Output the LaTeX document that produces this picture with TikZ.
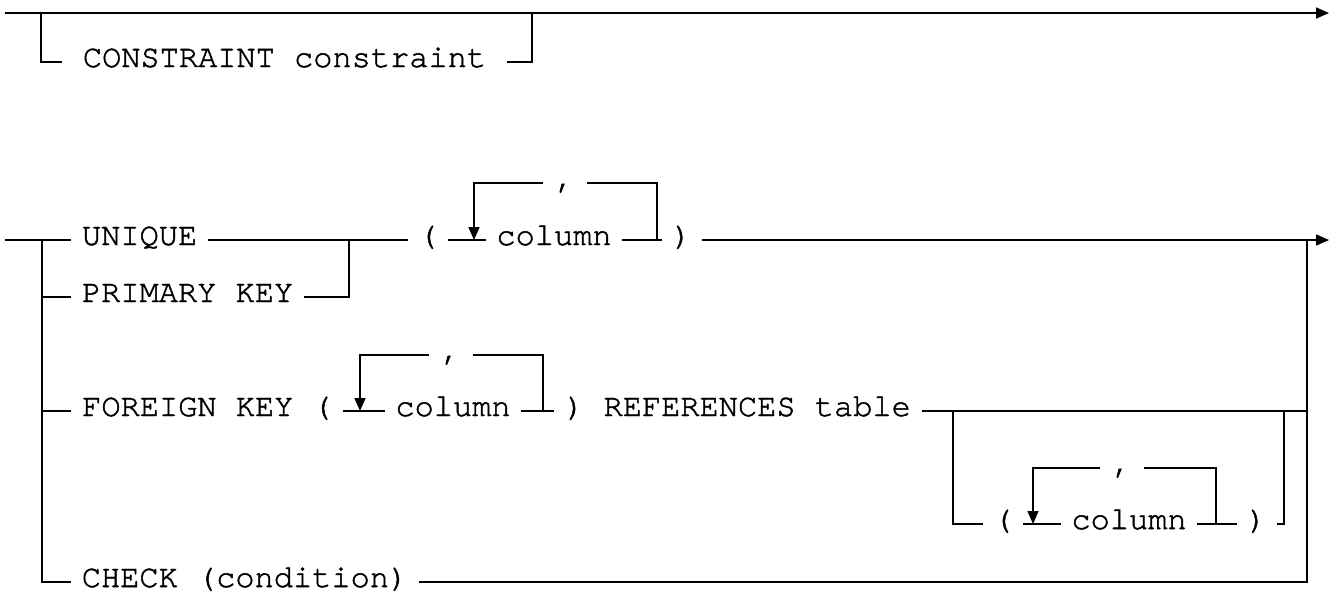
\documentclass[tikz,border=0pt]{standalone}
\usepackage{fontspec}
\newfontfamily\railfont{TeX Gyre Cursor}[RawFeature={embolden=1.5}]
\usetikzlibrary{arrows.meta}
\begin{document}
\begin{tikzpicture}[x=1pt,y=-1pt,line width=1.6pt,
    every node/.style={font=\railfont\fontsize{32}{36}\selectfont,text height=20pt,text depth=10pt,inner xsep=10pt,inner ysep=0pt},
    commabox/.style={inner xsep=12pt},
    endarrow/.style={-{Triangle[length=13pt,width=11pt]}}]
    \useasboundingbox (0,0) rectangle (1338,603);
    \node (cons) [inner xsep=20pt] at (284.5,62) {CONSTRAINT constraint};
    \node (unique) at (139.6,240) {UNIQUE};
    \node (pkey) at (187.6,297) {PRIMARY KEY};
    \node (lp1) at (428,240) {(};
    \node (col1) at (554,240) {column};
    \node (cm1) [commabox] at (565,183) {,};
    \node (rp1) at (682,240) {)};
    \node (fkey) at (207,411) {FOREIGN KEY (};
    \node (col2) at (453,411) {column};
    \node (cm2) [commabox] at (451,355) {,};
    \node (refs) at (738,411) {) REFERENCES table};
    \node (lp3) at (1003,524) {(};
    \node (col3) at (1129,524) {column};
    \node (cm3) [commabox] at (1122,468) {,};
    \node (rp3) at (1257,524) {)};
    \node (check) at (245,582) {CHECK (condition)};
    \coordinate (s0) at (5,13);
    \coordinate (e0) at (1329,13);
    \coordinate (b0) at (41,13);
    \coordinate (b1) at (532,13);
    \coordinate (s1) at (5,240);
    \coordinate (v1) at (42,240);
    \coordinate (j1) at (349,240);
    \coordinate (q1) at (474,240);
    \coordinate (r1) at (657,240);
    \coordinate (v2) at (1307,240);
    \coordinate (e1) at (1329,240);
    \coordinate (q2) at (360,411);
    \coordinate (r2) at (543,411);
    \coordinate (o1) at (953,411);
    \coordinate (o2) at (1284,411);
    \coordinate (q3) at (1033,524);
    \coordinate (r3) at (1216,524);
    \draw [endarrow] (s0) -- (e0);
    \draw (b0) |- (cons);
    \draw (cons) -| (b1);
    \draw (s1) -- (unique);
    \draw (v1) |- (pkey);
    \draw (v1) |- (fkey);
    \draw (v1) |- (check);
    \draw (unique) -- (lp1);
    \draw (pkey) -| (j1);
    \draw (lp1) -- (col1) -- (rp1);
    \draw (r1) |- (cm1);
    \draw [endarrow] (cm1) -| (q1);
    \draw [endarrow] (rp1) -- (e1);
    \draw (fkey) -- (col2) -- (refs);
    \draw (r2) |- (cm2);
    \draw [endarrow] (cm2) -| (q2);
    \draw (refs) -| (v2);
    \draw (check) -| (v2);
    \draw (o1) |- (lp3);
    \draw (lp3) -- (col3) -- (rp3);
    \draw (r3) |- (cm3);
    \draw [endarrow] (cm3) -| (q3);
    \draw (rp3) -| (o2);
  \end{tikzpicture}
\end{document}
